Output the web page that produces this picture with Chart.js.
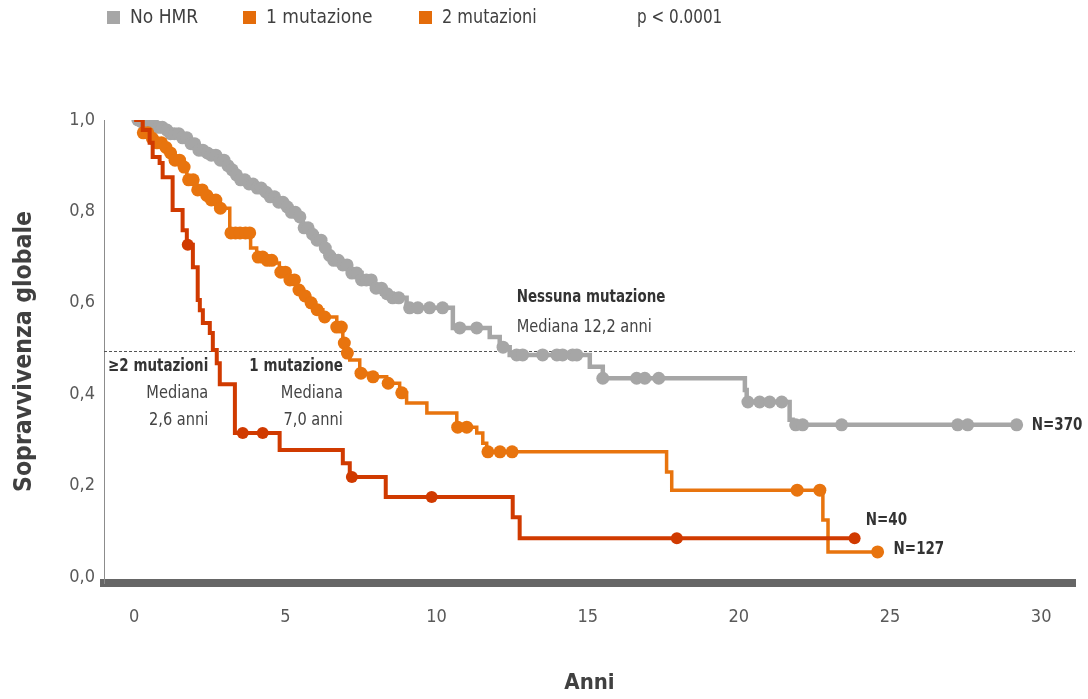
<!DOCTYPE html>
<html>
<head>
<meta charset="utf-8">
<script src="https://cdn.jsdelivr.net/npm/chart.js@4.4.1/dist/chart.umd.min.js"></script>
<style>
  html, body { margin: 0; padding: 0; background: #fff; }
  #wrap { position: relative; width: 1088px; height: 699px; }
</style>
</head>
<body>
<div id="wrap"><canvas id="kmChart"></canvas></div>
<script>
// Curve di Kaplan-Meier, sopravvivenza globale per numero di mutazioni HMR

const seriesNames = ['No HMR', '1 mutazione', '2 mutazioni'];
const xTicks = [0, 5, 10, 15, 20, 25, 30];
const yTicks = [0, 0.2, 0.4, 0.6, 0.8, 1.0];

// [anni, sopravvivenza dopo l'evento]
const noHmrSteps = [
  [0, 1], [0.18, 0.996], [0.35, 0.993], [0.51, 0.989], [0.7, 0.984], [0.94, 0.978],
  [1.2, 0.97], [1.51, 0.961], [1.8, 0.948], [2.07, 0.934], [2.3, 0.928], [2.5, 0.923],
  [2.83, 0.912], [3.0, 0.9], [3.16, 0.891], [3.35, 0.88], [3.49, 0.869], [3.75, 0.86],
  [3.99, 0.851], [4.25, 0.842], [4.48, 0.832], [4.75, 0.82], [4.98, 0.81], [5.2, 0.798],
  [5.38, 0.788], [5.57, 0.764], [5.8, 0.75], [6.04, 0.737], [6.2, 0.72], [6.37, 0.704],
  [6.6, 0.693], [6.8, 0.683], [7.13, 0.665], [7.52, 0.65], [7.89, 0.632], [8.2, 0.62],
  [8.55, 0.611], [9.01, 0.589], [10.54, 0.545], [11.76, 0.525], [12.09, 0.503],
  [12.42, 0.486], [15.07, 0.46], [15.5, 0.435], [20.2, 0.409], [20.26, 0.383],
  [21.68, 0.344], [21.78, 0.333], [29.19, 0.333]
];
const oneMutSteps = [
  [0, 1], [0.28, 0.972], [0.5, 0.96], [0.74, 0.95], [0.95, 0.94], [1.17, 0.928],
  [1.35, 0.912], [1.51, 0.897], [1.74, 0.869], [2.07, 0.847], [2.3, 0.835], [2.5, 0.825],
  [2.83, 0.807], [3.16, 0.753], [3.85, 0.72], [4.05, 0.70], [4.3, 0.693], [4.58, 0.687],
  [4.8, 0.667], [5.04, 0.65], [5.38, 0.628], [5.6, 0.615], [5.8, 0.6], [6.0, 0.585],
  [6.24, 0.569], [6.7, 0.547], [6.9, 0.512], [7.03, 0.49], [7.13, 0.475], [7.46, 0.446],
  [7.89, 0.438], [8.35, 0.424], [8.78, 0.403], [9.01, 0.381], [9.68, 0.359],
  [10.67, 0.328], [11.33, 0.315], [11.53, 0.293], [11.66, 0.274], [17.61, 0.23],
  [17.78, 0.19], [22.78, 0.125], [22.95, 0.055], [24.59, 0.055]
];
const twoMutSteps = [
  [0, 1], [0.28, 0.978], [0.51, 0.95], [0.61, 0.919], [0.84, 0.906], [0.94, 0.875],
  [1.27, 0.803], [1.6, 0.759], [1.74, 0.727], [1.94, 0.678], [2.1, 0.606], [2.17, 0.584],
  [2.27, 0.556], [2.5, 0.534], [2.6, 0.497], [2.73, 0.468], [2.83, 0.422], [3.33, 0.315],
  [4.81, 0.278], [6.9, 0.249], [7.13, 0.219], [8.32, 0.175], [12.52, 0.131],
  [12.75, 0.085], [23.83, 0.085]
];

// tempi dei pazienti censurati (anni)
const noHmrCensored = [
  0.12, 0.25, 0.4, 0.52, 0.66, 0.8, 0.93, 1.08, 1.2, 1.33, 1.47, 1.6, 1.74, 1.88, 2.0,
  2.14, 2.27, 2.42, 2.55, 2.7, 2.85, 2.97, 3.1, 3.24, 3.38, 3.52, 3.66, 3.8, 3.93, 4.07,
  4.2, 4.36, 4.5, 4.64, 4.78, 4.92, 5.06, 5.2, 5.33, 5.48, 5.62, 5.75, 5.9, 6.05, 6.18,
  6.32, 6.46, 6.6, 6.75, 6.9, 7.04, 7.2, 7.36, 7.52, 7.68, 7.84, 8.0, 8.18, 8.36, 8.55,
  8.75, 9.11, 9.38, 9.77, 10.2, 10.77, 11.33, 12.2, 12.65, 12.85, 13.51, 13.98, 14.17,
  14.5, 14.64, 15.5, 16.62, 16.89, 17.35, 20.3, 20.69, 21.02, 21.42, 21.88, 22.11, 23.4,
  27.24, 27.57, 29.19
];
const oneMutCensored = [
  0.3, 0.45, 0.6, 0.75, 0.9, 1.05, 1.2, 1.35, 1.5, 1.65, 1.8, 1.95, 2.1, 2.25, 2.4, 2.55,
  2.7, 2.85, 3.2, 3.35, 3.5, 3.68, 3.82, 4.1, 4.25, 4.4, 4.55, 4.85, 5.0, 5.15, 5.3, 5.45,
  5.65, 5.85, 6.05, 6.3, 6.7, 6.85, 6.95, 7.05, 7.5, 7.9, 8.4, 8.85, 10.7, 11.0, 11.7,
  12.1, 12.5, 21.93, 22.68, 24.59
];
const twoMutCensored = [1.77, 3.59, 4.25, 7.2, 9.84, 17.95, 23.83];

const seriesColors = ['#a6a6a6', '#e8740e', '#d03a00'];
const legendColors = ['#a6a6a6', '#e46c0a', '#e46c0a'];
const pValueText = 'p < 0.0001';
const medianLine = 0.495;

const FONT = "'Liberation Sans Narrow', 'DejaVu Sans Condensed', 'Roboto Condensed', 'Noto Sans', sans-serif";

function survivalAt(steps, t) {
  let s = 1;
  for (const [time, val] of steps) {
    if (time <= t) s = val; else break;
  }
  return s;
}

const stepSets = [noHmrSteps, oneMutSteps, twoMutSteps];
const censorSets = [noHmrCensored, oneMutCensored, twoMutCensored];
const lineWidths = [4.5, 3.5, 4];
const dotRadius = [6.5, 6.5, 6];

const datasets = [];
stepSets.forEach((steps, i) => {
  datasets.push({
    type: 'line',
    label: seriesNames[i],
    data: steps.map(p => ({ x: p[0], y: p[1] })),
    borderColor: seriesColors[i],
    borderWidth: lineWidths[i],
    stepped: 'before',
    pointRadius: 0,
    fill: false,
    order: 10 - i * 2
  });
  datasets.push({
    type: 'scatter',
    label: seriesNames[i] + ' (censurati)',
    data: censorSets[i].map(t => ({ x: t, y: survivalAt(steps, t) })),
    backgroundColor: seriesColors[i],
    borderWidth: 0,
    pointRadius: dotRadius[i],
    pointHoverRadius: dotRadius[i],
    order: 9 - i * 2
  });
});

// testi sul grafico (posizioni in unità di dati)
const annotations = [
  { text: 'Nessuna mutazione', x: 12.65, y: 0.611, bold: true, align: 'left' },
  { text: 'Mediana 12,2 anni', x: 12.65, y: 0.547, bold: false, align: 'left' },
  { text: '\u22652 mutazioni', x: 2.45, y: 0.462, bold: true, align: 'right' },
  { text: 'Mediana', x: 2.45, y: 0.403, bold: false, align: 'right' },
  { text: '2,6 anni', x: 2.45, y: 0.344, bold: false, align: 'right' },
  { text: '1 mutazione', x: 6.9, y: 0.462, bold: true, align: 'right' },
  { text: 'Mediana', x: 6.9, y: 0.403, bold: false, align: 'right' },
  { text: '7,0 anni', x: 6.9, y: 0.344, bold: false, align: 'right' },
  { text: 'N=370', x: 29.69, y: 0.333, bold: true, align: 'left' },
  { text: 'N=40', x: 24.2, y: 0.125, bold: true, align: 'left' },
  { text: 'N=127', x: 25.12, y: 0.061, bold: true, align: 'left' }
];

// testo un po' stretto in orizzontale, come nell'originale
function narrowText(ctx, text, px, py, squeeze) {
  ctx.save();
  ctx.translate(px, py);
  ctx.scale(squeeze, 1);
  ctx.fillText(text, 0, 0);
  ctx.restore();
}

const extrasPlugin = {
  id: 'extras',
  beforeDatasetsDraw(chart) {
    const { ctx, chartArea, scales: { y } } = chart;
    const py = Math.round(y.getPixelForValue(medianLine)) + 0.5;
    ctx.save();
    ctx.strokeStyle = '#555';
    ctx.lineWidth = 1;
    ctx.setLineDash([3, 2]);
    ctx.beginPath();
    ctx.moveTo(chartArea.left, py);
    ctx.lineTo(chartArea.right, py);
    ctx.stroke();
    ctx.restore();
  },
  afterDraw(chart) {
    const { ctx, scales: { x, y } } = chart;
    ctx.save();
    ctx.textBaseline = 'middle';
    annotations.forEach(a => {
      ctx.font = (a.bold ? 'bold ' : '') + '18px ' + FONT;
      ctx.fillStyle = a.bold ? '#333' : '#444';
      ctx.textAlign = a.align;
      narrowText(ctx, a.text, x.getPixelForValue(a.x), y.getPixelForValue(a.y), a.bold ? 0.83 : 0.9);
    });

    // legenda in alto
    ctx.font = '19px ' + FONT;
    ctx.textAlign = 'left';
    const boxX = [107, 243, 419];
    seriesNames.forEach((name, i) => {
      ctx.fillStyle = legendColors[i];
      ctx.fillRect(boxX[i], 11, 13, 13);
      ctx.fillStyle = '#404040';
      narrowText(ctx, name, boxX[i] + 23, 18, i === 2 ? 0.94 : 1);
    });
    ctx.fillStyle = '#404040';
    narrowText(ctx, pValueText, 637, 18, 0.89);
    ctx.restore();
  }
};

new Chart(document.getElementById('kmChart'), {
  data: { datasets: datasets },
  options: {
    responsive: true,
    maintainAspectRatio: false,
    animation: false,
    layout: { padding: { top: 120, right: 13, left: 0, bottom: 0 } },
    plugins: {
      legend: { display: false },
      tooltip: { enabled: false }
    },
    scales: {
      x: {
        type: 'linear',
        min: -1,
        max: 31.12,
        afterBuildTicks: s => { s.ticks = xTicks.map(v => ({ value: v })); },
        afterFit: s => { s.height = 116; },
        grid: { display: false, drawTicks: false },
        border: { display: true, color: '#666', width: 8 },
        ticks: {
          padding: 24,
          color: '#595959',
          font: { family: FONT, size: 18 },
          callback: v => String(v)
        },
        title: {
          display: true,
          text: 'Anni',
          color: '#404040',
          font: { family: FONT, size: 22, weight: 'bold' },
          padding: { top: 0, bottom: 3 }
        }
      },
      y: {
        type: 'linear',
        min: -0.013,
        max: 1.0,
        afterBuildTicks: s => { s.ticks = yTicks.map(v => ({ value: v })); },
        afterFit: s => { s.width = 104; },
        grid: { display: false, drawTicks: false },
        border: { display: true, color: '#8c8c8c', width: 1 },
        ticks: {
          padding: 9,
          color: '#595959',
          font: { family: FONT, size: 18 },
          callback: v => v.toFixed(1).replace('.', ',')
        },
        title: {
          display: true,
          text: 'Sopravvivenza globale',
          color: '#404040',
          font: { family: FONT, size: 24.5, weight: 'bold' },
          padding: { top: 10, bottom: 0 }
        }
      }
    }
  },
  plugins: [extrasPlugin]
});
</script>
</body>
</html>
